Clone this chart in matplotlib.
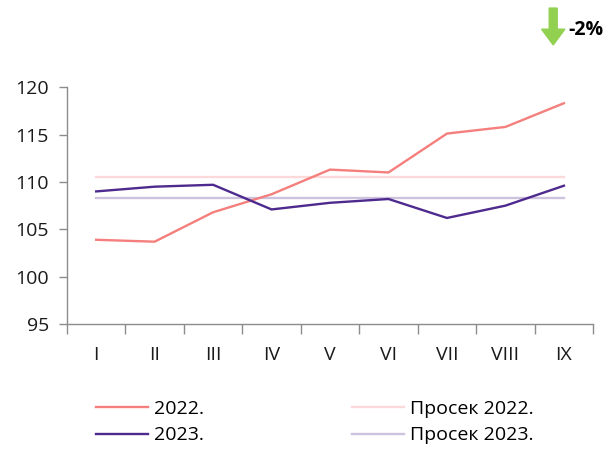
import matplotlib
matplotlib.use("Agg")
import matplotlib.pyplot as plt
from matplotlib.patches import FancyArrow
import numpy as np

months = ["I", "II", "III", "IV", "V", "VI", "VII", "VIII", "IX"]
y2022 = [103.9, 103.7, 106.8, 108.7, 111.3, 111.0, 115.1, 115.8, 118.3]
y2023 = [109.0, 109.5, 109.7, 107.1, 107.8, 108.2, 106.2, 107.5, 109.6]
avg2022 = [110.5] * 9
avg2023 = [108.3] * 9
change_label = "-2%"

plt.rcParams["font.family"] = ["Open Sans", "DejaVu Sans"]

fig = plt.figure(figsize=(6.14, 4.49), dpi=100)
ax = fig.add_axes([0.109, 0.278, 0.857, 0.528])

x = np.arange(len(months))
ax.plot(x, avg2022, color="#FDD9D9", lw=1.7, label="Просек 2022.")
ax.plot(x, avg2023, color="#CEC3DE", lw=1.7, label="Просек 2023.")
ax.plot(x, y2022, color="#F47F7C", lw=1.7, label="2022.")
ax.plot(x, y2023, color="#4E2A8E", lw=1.7, label="2023.")

ax.set_xlim(-0.5, len(months) - 0.5)
ax.set_ylim(95, 120)
ax.set_yticks(range(95, 121, 5))
ax.set_xticks(x)
ax.set_xticklabels(months)
ax.set_xticks(np.arange(-0.5, len(months), 1), minor=True)
ax.tick_params(axis="x", which="major", length=0, pad=16, labelsize=14, colors="#1a1a1a")
ax.tick_params(axis="x", which="minor", length=7, color="#8c8c8c", width=1)
ax.tick_params(axis="y", length=6, color="#8c8c8c", width=1, labelsize=14, pad=7,
               labelcolor="#1a1a1a")
for s in ["top", "right"]:
    ax.spines[s].set_visible(False)
for s in ["left", "bottom"]:
    ax.spines[s].set_color("#8c8c8c")
    ax.spines[s].set_linewidth(1)

h, lab = ax.get_legend_handles_labels()
order = [2, 3, 0, 1]
fig.legend([h[i] for i in order], [lab[i] for i in order], ncol=2,
           loc="upper left", bbox_to_anchor=(0.156, 0.11), frameon=False,
           borderpad=0, borderaxespad=0,
           fontsize=14, handlelength=2.7, handletextpad=0.3,
           columnspacing=7.6, labelspacing=0.45)

# arrow with change
fig.patches.append(FancyArrow(0.901, 0.982, 0, -0.082, width=0.013, head_width=0.038,
                              head_length=0.035, length_includes_head=True,
                              color="#92D050", transform=fig.transFigure))
fig.text(0.926, 0.934, change_label, fontsize=14, fontweight="bold",
         ha="left", va="center")

fig.savefig("out.png", dpi=100)
